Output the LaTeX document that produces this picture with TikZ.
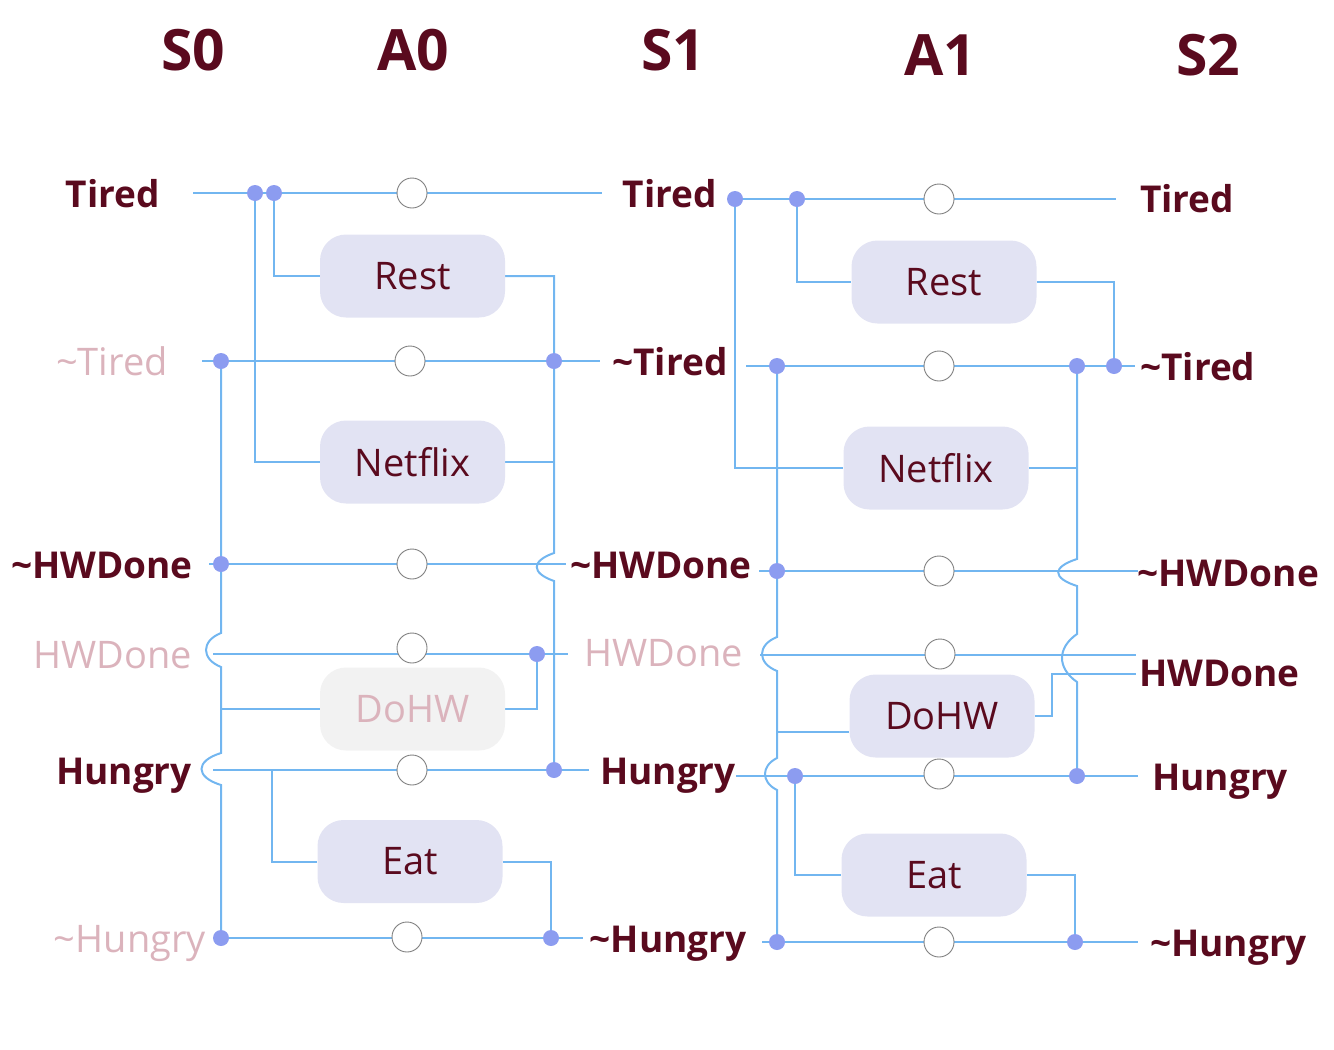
\documentclass[tikz,border=0pt]{standalone}
\usepackage{fontspec}
\setmainfont{Open Sans}
\pgfdeclarelayer{background}
\pgfsetlayers{background,main}
\definecolor{maroon}{HTML}{5A0A1E}
\definecolor{pinktext}{HTML}{DBB3BC}
\definecolor{wireblue}{HTML}{72B6F0}
\definecolor{dotblue}{HTML}{8C9CF0}
\definecolor{boxfill}{HTML}{E2E3F3}
\definecolor{greybox}{HTML}{F2F2F2}
\definecolor{gateline}{HTML}{808080}
\tikzset{
 wire/.style={draw=wireblue, line width=2pt},
 dotn/.style={circle, fill=dotblue, inner sep=0pt, minimum size=16pt},
 gate/.style={circle, draw=gateline, fill=white, line width=0.9pt, inner sep=0pt, minimum size=30pt},
 act/.style={rectangle, rounded corners=26pt, fill=boxfill, text=maroon, minimum width=185pt, minimum height=83pt, inner sep=0pt, font=\fontsize{38}{40}\selectfont},
 actoff/.style={act, fill=greybox, text=pinktext},
 slab/.style={text=maroon, font=\fontsize{37}{40}\selectfont\bfseries, inner sep=0pt},
 plab/.style={text=pinktext, font=\fontsize{38}{40}\selectfont, inner sep=0pt},
 head/.style={text=maroon, font=\fontsize{57}{60}\selectfont\bfseries, inner sep=0pt},
}
\begin{document}
\begin{tikzpicture}[x=1pt,y=-1pt]
\useasboundingbox (0,0) rectangle (1334,1050);

% headers
\node[head, anchor=base] (hS0) at (193,70) {S0};
\node[head, anchor=base] (hA0) at (413,70) {A0};
\node[head, anchor=base] (hS1) at (673,70) {S1};
\node[head, anchor=base] (hA1) at (940,75) {A1};
\node[head, anchor=base] (hS2) at (1208,75) {S2};

% S0 labels
\node[slab, anchor=base east] (s0T) at (160,207) {Tired};
\node[plab, anchor=base east] (s0nT) at (168,375) {\textasciitilde Tired};
\node[slab, anchor=base east] (s0nH) at (193,578) {\textasciitilde HWDone};
\node[plab, anchor=base east] (s0H) at (192,668) {HWDone};
\node[slab, anchor=base east] (s0Hg) at (192,784) {Hungry};
\node[plab, anchor=base east] (s0nHg) at (206,952) {\textasciitilde Hungry};

% S1 labels
\node[slab, anchor=base] (s1T) at (670,207) {Tired};
\node[slab, anchor=base] (s1nT) at (670,375) {\textasciitilde Tired};
\node[slab, anchor=base] (s1nH) at (661,578) {\textasciitilde HWDone};
\node[plab, anchor=base] (s1H) at (664,666) {HWDone};
\node[slab, anchor=base] (s1Hg) at (668,784) {Hungry};
\node[slab, anchor=base] (s1nHg) at (668,952) {\textasciitilde Hungry};

% S2 labels
\node[slab, anchor=base west] (s2T) at (1140,212) {Tired};
\node[slab, anchor=base west] (s2nT) at (1140,380) {\textasciitilde Tired};
\node[slab, anchor=base west] (s2nH) at (1137,586) {\textasciitilde HWDone};
\node[slab, anchor=base west] (s2H) at (1139,686) {HWDone};
\node[slab, anchor=base west] (s2Hg) at (1152,790) {Hungry};
\node[slab, anchor=base west] (s2nHg) at (1150,956) {\textasciitilde Hungry};

% ---------- left block (A0) ----------
\node[act] (rest0) at (412.5,276) {Rest};
\node[act] (net0) at (412.5,462) {Netflix};
\node[actoff] (dohw0) at (412.5,709) {DoHW};
\node[act] (eat0) at (410,861.5) {Eat};

\node[gate] (g0T) at (412,193) {};
\node[gate] (g0nT) at (410,361) {};
\node[gate] (g0nH) at (412,564) {};
\node[gate] (g0H) at (412,648) {};
\node[gate] (g0Hg) at (412,770) {};
\node[gate] (g0nHg) at (407,937) {};

\node[dotn] (d0a) at (255,193) {};
\node[dotn] (d0b) at (274,193) {};
\node[dotn] (d0c) at (221,361) {};
\node[dotn] (d0d) at (554,361) {};
\node[dotn] (d0e) at (221,564) {};
\node[dotn] (d0f) at (537,654) {};
\node[dotn] (d0g) at (554,770) {};
\node[dotn] (d0h) at (221,938) {};
\node[dotn] (d0i) at (551,938) {};

\coordinate (l0T0) at (193,193);   \coordinate (l0T1) at (602,193);
\coordinate (l0nT0) at (202,361);  \coordinate (l0nT1) at (600,361);
\coordinate (l0nH0) at (209,564);  \coordinate (l0nH1) at (566,564);
\coordinate (l0H0) at (213,654);   \coordinate (l0H1) at (568,654);
\coordinate (l0Hg0) at (213,770);  \coordinate (l0Hg1) at (589,770);
\coordinate (l0nHg1) at (583,938);
\coordinate (l0eat) at (272,770);
\coordinate (l0do) at (221,709);

% ---------- right block (A1) ----------
\node[act] (rest1) at (944,282) {Rest};
\node[act] (net1) at (936,468) {Netflix};
\node[act] (dohw1) at (942,716) {DoHW};
\node[act] (eat1) at (934,875) {Eat};

\node[gate] (g1T) at (939,199) {};
\node[gate] (g1nT) at (939,366) {};
\node[gate] (g1nH) at (939,571) {};
\node[gate] (g1H) at (940,654) {};
\node[gate] (g1Hg) at (939,774) {};
\node[gate] (g1nHg) at (939,942) {};

\node[dotn] (d1a) at (735,199) {};
\node[dotn] (d1b) at (797,199) {};
\node[dotn] (d1c) at (777,366) {};
\node[dotn] (d1d) at (1077,366) {};
\node[dotn] (d1e) at (1114,366) {};
\node[dotn] (d1f) at (777,571) {};
\node[dotn] (d1g) at (795,776) {};
\node[dotn] (d1h) at (1077,776) {};
\node[dotn] (d1i) at (777,942) {};
\node[dotn] (d1j) at (1075,942) {};

\coordinate (l1T1) at (1116,199);
\coordinate (l1nT0) at (746,366);  \coordinate (l1nT1) at (1135,366);
\coordinate (l1nH0) at (759,571);  \coordinate (l1nH1) at (1138,571);
\coordinate (l1H0) at (760,655);   \coordinate (l1H1) at (1136,655);
\coordinate (l1Hg0) at (736,776);  \coordinate (l1Hg1) at (1138,776);
\coordinate (l1nHg0) at (762,942); \coordinate (l1nHg1) at (1138,942);
\coordinate (l1do) at (777,732);
\coordinate (l1doR) at (1136,674);

\begin{pgfonlayer}{background}
% left block rows
\draw[wire] (l0T0) -- (l0T1);
\draw[wire] (l0nT0) -- (l0nT1);
\draw[wire] (l0nH0) -- (l0nH1);
\draw[wire] (l0H0) -- (l0H1);
\draw[wire] (l0Hg0) -- (l0Hg1);
\draw[wire] (d0h.center) -- (l0nHg1);
% left block verticals
\draw[wire] (d0a.center) |- (net0.west);
\draw[wire] (d0b.center) |- (rest0.west);
\draw[wire] (d0c.center) -- (221,633) .. controls +(-20,8) and +(-20,-8) .. (221,667)
  -- (221,753) .. controls +(-26,8) and +(-26,-8) .. (221,785) -- (d0h.center);
\draw[wire] (l0do) -- (dohw0.west);
\draw[wire] (rest0.east) -| (d0d.center) -- (554,553) .. controls +(-23,8) and +(-23,-8) .. (554,581) -- (d0g.center);
\draw[wire] (net0.east) -- (net0.east -| d0d);
\draw[wire] (dohw0.east) -| (d0f.center);
\draw[wire] (l0eat) |- (eat0.west);
\draw[wire] (eat0.east) -| (d0i.center);

% right block rows
\draw[wire] (d1a.center) -- (l1T1);
\draw[wire] (l1nT0) -- (l1nT1);
\draw[wire] (l1nH0) -- (l1nH1);
\draw[wire] (l1H0) -- (l1H1);
\draw[wire] (l1Hg0) -- (l1Hg1);
\draw[wire] (l1nHg0) -- (l1nHg1);
% right block verticals
\draw[wire] (d1a.center) |- (net1.west);
\draw[wire] (d1b.center) |- (rest1.west);
\draw[wire] (rest1.east) -| (d1e.center);
\draw[wire] (d1c.center) -- (777,637) .. controls +(-20,8) and +(-20,-8) .. (777,671)
  -- (777,758) .. controls +(-16,8) and +(-16,-8) .. (777,790) -- (d1i.center);
\draw[wire] (l1do) -- (l1do -| dohw1.west);
\draw[wire] (d1d.center) -- (1077,559) .. controls +(-25,8) and +(-25,-8) .. (1077,586)
  -- (1077,634) .. controls +(-20,14) and +(-20,-14) .. (1077,682) -- (d1h.center);
\draw[wire] (net1.east) -- (net1.east -| d1d);
\draw[wire] (dohw1.east) -- (1052,716) -- (1052,674) -- (l1doR);
\draw[wire] (d1g.center) |- (eat1.west);
\draw[wire] (eat1.east) -| (d1j.center);
\end{pgfonlayer}
\end{tikzpicture}
\end{document}
